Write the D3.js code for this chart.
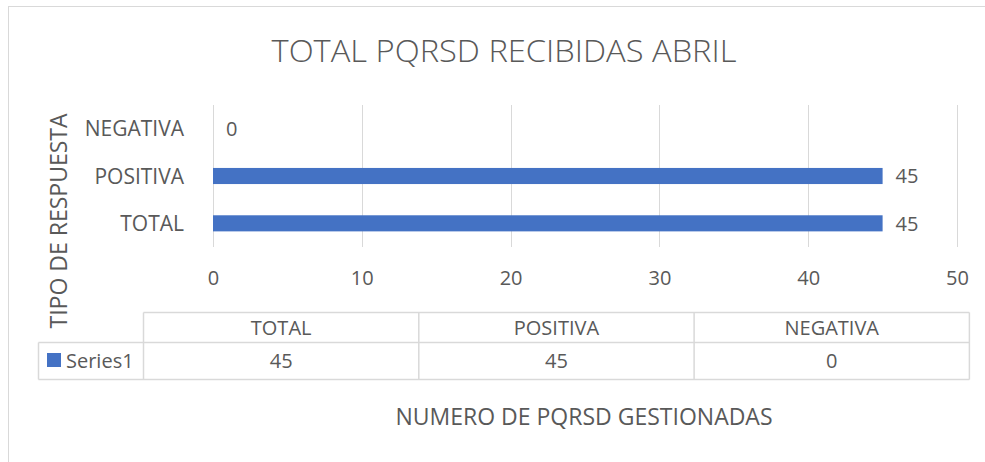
<!DOCTYPE html>
<html>
<head>
<meta charset="utf-8">
<script src="https://cdn.jsdelivr.net/npm/d3@7"></script>
<style>
  body { margin: 0; background: #fff; }
  svg { display: block; font-family: "Open Sans", "Noto Sans", sans-serif; }
  .lbl { fill: #595959; }
</style>
</head>
<body>
<svg class="svg-chart" width="985" height="462"></svg>
<script>
// chart values
var categories = ["TOTAL", "POSITIVA", "NEGATIVA"];
var values = [45, 45, 0];
var seriesName = "Series1";
var xTicks = [0, 10, 20, 30, 40, 50];
var chartTitle = "TOTAL PQRSD RECIBIDAS ABRIL";
var xTitle = "NUMERO DE PQRSD GESTIONADAS";
var yTitle = "TIPO DE RESPUESTA";

var svg = d3.select(".svg-chart");
var grey = "#d9d9d9";
var blue = "#4472c4";

// outer chart frame
svg.append("rect")
  .attr("x", 8.5).attr("y", 6.5)
  .attr("width", 1000).attr("height", 500)
  .attr("fill", "none").attr("stroke", grey);

svg.append("text")
  .attr("class", "lbl")
  .attr("x", 504).attr("y", 62)
  .attr("text-anchor", "middle")
  .attr("font-size", 31)
  .attr("font-weight", 300)
  .attr("textLength", 465)
  .attr("lengthAdjust", "spacingAndGlyphs")
  .text(chartTitle);

var plot = { left: 213, right: 957, top: 105, bottom: 247 };

var x = d3.scaleLinear().domain([0, 50]).range([plot.left, plot.right]);
var y = d3.scaleBand()
  .domain(categories.slice().reverse())
  .range([plot.top, plot.bottom])
  .paddingInner(0.66).paddingOuter(0.33);

// gridlines
svg.append("g").selectAll("line")
  .data(xTicks)
  .enter().append("line")
  .attr("x1", function (d) { return Math.round(x(d)) + 0.5; })
  .attr("x2", function (d) { return Math.round(x(d)) + 0.5; })
  .attr("y1", plot.top).attr("y2", plot.bottom)
  .attr("stroke", grey).attr("stroke-width", 1);

// x axis tick labels
var xAxis = d3.axisBottom(x).tickValues(xTicks).tickSize(0).tickPadding(0);
var gx = svg.append("g")
  .attr("transform", "translate(0," + 285 + ")")
  .call(xAxis);
gx.select(".domain").remove();
gx.selectAll("text")
  .attr("class", "lbl")
  .attr("font-size", 20)
  .attr("font-family", "Open Sans, sans-serif")
  .attr("dy", 0)
  .attr("y", 0);

// y axis category labels
var yAxis = d3.axisLeft(y).tickSize(0).tickPadding(0);
var gy = svg.append("g")
  .attr("transform", "translate(" + 184 + ",0)")
  .call(yAxis);
gy.select(".domain").remove();
gy.selectAll("text")
  .attr("class", "lbl")
  .attr("font-size", 21)
  .attr("font-family", "Open Sans, sans-serif")
  .attr("dy", "0.36em");

// bars
var data = categories.map(function (c, i) { return { cat: c, value: values[i] }; });
svg.append("g").selectAll("rect")
  .data(data)
  .enter().append("rect")
  .attr("x", x(0))
  .attr("y", function (d) { return y(d.cat); })
  .attr("width", function (d) { return x(d.value) - x(0); })
  .attr("height", y.bandwidth())
  .attr("fill", blue);

// data labels
svg.append("g").selectAll("text")
  .data(data)
  .enter().append("text")
  .attr("class", "lbl")
  .attr("x", function (d) { return x(d.value) + 13; })
  .attr("y", function (d) { return y(d.cat) + y.bandwidth() / 2; })
  .attr("dy", "0.36em")
  .attr("font-size", 20)
  .text(function (d) { return d.value; });

// y axis title
svg.append("text")
  .attr("class", "lbl")
  .attr("transform", "translate(67,221) rotate(-90)")
  .attr("text-anchor", "middle")
  .attr("font-size", 23)
  .text(yTitle);

// data table below the axis
var table = { top: 312.5, mid: 342.5, bottom: 379.5, left: 38.5, colStart: 143.5, colW: 275.3 };
var tg = svg.append("g").attr("fill", "none").attr("stroke", grey).attr("stroke-width", 1.5);
var tableRight = table.colStart + table.colW * categories.length;
tg.append("line").attr("x1", table.colStart).attr("x2", tableRight).attr("y1", table.top).attr("y2", table.top);
tg.append("line").attr("x1", table.left).attr("x2", tableRight).attr("y1", table.mid).attr("y2", table.mid);
tg.append("line").attr("x1", table.left).attr("x2", tableRight).attr("y1", table.bottom).attr("y2", table.bottom);
tg.append("line").attr("x1", table.left).attr("x2", table.left).attr("y1", table.mid).attr("y2", table.bottom);
d3.range(categories.length + 1).forEach(function (i) {
  var cx = table.colStart + table.colW * i;
  tg.append("line").attr("x1", cx).attr("x2", cx).attr("y1", table.top).attr("y2", table.bottom);
});

var cells = svg.append("g");
cells.selectAll("text.head")
  .data(categories)
  .enter().append("text")
  .attr("class", "lbl head")
  .attr("x", function (d, i) { return table.colStart + table.colW * (i + 0.5); })
  .attr("y", (table.top + table.mid) / 2)
  .attr("dy", "0.36em")
  .attr("text-anchor", "middle")
  .attr("font-size", 20)
  .text(function (d) { return d; });
cells.selectAll("text.val")
  .data(values)
  .enter().append("text")
  .attr("class", "lbl val")
  .attr("x", function (d, i) { return table.colStart + table.colW * (i + 0.5); })
  .attr("y", (table.mid + table.bottom) / 2)
  .attr("dy", "0.36em")
  .attr("text-anchor", "middle")
  .attr("font-size", 20)
  .text(function (d) { return d; });

// legend key inside the table
cells.append("rect")
  .attr("x", 47).attr("y", 353)
  .attr("width", 14).attr("height", 14)
  .attr("fill", blue);
cells.append("text")
  .attr("class", "lbl")
  .attr("x", 66).attr("y", (table.mid + table.bottom) / 2)
  .attr("dy", "0.36em")
  .attr("font-size", 20)
  .text(seriesName);

// x axis title
svg.append("text")
  .attr("class", "lbl")
  .attr("x", 584).attr("y", 425)
  .attr("text-anchor", "middle")
  .attr("font-size", 23)
  .text(xTitle);
</script>
</body>
</html>
